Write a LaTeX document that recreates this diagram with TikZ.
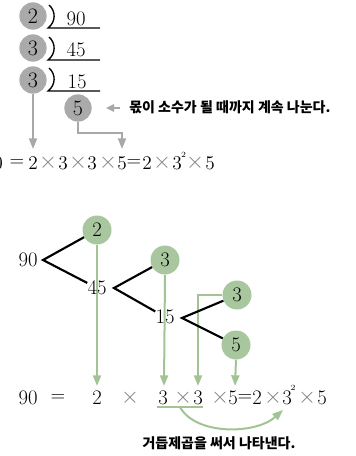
\documentclass[tikz,border=0pt]{standalone}
\usepackage{fontspec}
\newfontfamily\kr{Noto Sans CJK KR}
\usetikzlibrary{arrows.meta}
\definecolor{gcirc}{HTML}{AAAAAA}
\definecolor{garr}{HTML}{A8A8A8}
\definecolor{gfill}{HTML}{A8C79E}
\definecolor{gline}{HTML}{A2C494}
\definecolor{xgray}{HTML}{808080}
\begin{document}
\begin{tikzpicture}[x=0.75pt,y=-0.75pt,
  graycirc/.style={circle,fill=gcirc,inner sep=0pt,minimum size=20.5pt,font=\fontsize{16.5}{16.5}\selectfont},
  greencirc/.style={circle,fill=gfill,inner sep=0pt,minimum size=21.75pt,font=\fontsize{15.5}{15.5}\selectfont},
  num/.style={inner sep=0pt,font=\fontsize{15.5}{15.5}\selectfont},
  eqa/.style={inner sep=0pt,font=\fontsize{14.5}{14.5}\selectfont},
  eqb/.style={inner sep=0pt,font=\fontsize{15.5}{15.5}\selectfont},
  supa/.style={inner sep=0pt,font=\fontsize{6}{6}\selectfont},
  timesa/.style={inner sep=0pt,text=xgray,font=\fontsize{17}{17}\selectfont},
  timesb/.style={inner sep=0pt,text=xgray,font=\fontsize{18}{18}\selectfont},
  kor/.style={inner sep=0pt,font=\kr\bfseries\fontsize{10.5}{11}\selectfont},
  brk/.style={draw=black,line width=1pt},
  tree/.style={draw=black,line width=1.6pt},
  garrow/.style={draw=garr,line width=1.5pt,-{Triangle[length=8pt,width=6pt]}},
  gln/.style={draw=gline,line width=1.5pt},
  gar/.style={gln,-{Triangle[length=8pt,width=6pt]}}
]
\clip (0,0) rectangle (356,456);
\useasboundingbox (0,0) rectangle (356,456);

% ---------- top: repeated division ----------
\foreach \ul in {28,60,91}{
  \draw[brk] (49,\ul-23) .. controls (56,\ul-17) and (56,\ul-6) .. (48,\ul) -- (100,\ul);
}
\node[graycirc] (c1) at (33,16) {2};
\node[graycirc] (c2) at (33,48) {3};
\node[graycirc] (c3) at (33,80) {3};
\node[graycirc] (c4) at (78,108) {5};
\node[num] (d90) at (76,19) {90};
\node[num] (d45) at (76,50) {45};
\node[num] (d15) at (77,82) {15};

\node[kor,anchor=west] (note1) at (129,107) {몫이 소수가 될 때까지 계속 나눈다.};
\coordinate (la) at (120,108);
\coordinate (lb) at (106,108);
\draw[draw=garr,line width=1.5pt,-{Triangle[length=6pt,width=5.5pt]}] (la) -- (lb);

% top equation
\node[eqa,anchor=east] (a90) at (3,163) {90};
\node[eqa] (aeq1) at (17,163) {$=$};
\node[eqa] (a2) at (33,163) {2};
\node[timesa] (ax1) at (48,163) {$\times$};
\node[eqa] (a3) at (63,163) {3};
\node[timesa] (ax2) at (78,163) {$\times$};
\node[eqa] (a3b) at (92,163) {3};
\node[timesa] (ax3) at (108,163) {$\times$};
\node[eqa] (a5) at (122,163) {5};
\node[eqa] (aeq2) at (134,163) {$=$};
\node[eqa] (a2b) at (147,163) {2};
\node[timesa] (ax4) at (162,163) {$\times$};
\node[eqa] (a3c) at (177,163) {3};
\node[supa] (asup) at (183.5,155) {2};
\node[timesa] (ax5) at (195,163) {$\times$};
\node[eqa] (a5b) at (210,163) {5};

\coordinate (t1) at (33,149);
\coordinate (b1) at (122,133);
\coordinate (t2) at (122,149);
\draw[garrow] (c3.south) -- (t1);
\draw[garrow] (c4.south) |- (b1) -- (t2);

% ---------- bottom: factor tree ----------
\coordinate (v1) at (43,260);
\coordinate (v2) at (114,288);
\coordinate (v3) at (182,318);
\coordinate (e2) at (97,386);
\coordinate (e3) at (164,386);
\coordinate (e3b) at (198,386);
\coordinate (e5) at (235,386);

\node[greencirc] (g2) at (97,230) {2};
\node[greencirc] (g3) at (165,260) {3};
\node[greencirc] (g3b) at (237,295) {3};
\node[greencirc] (g5b) at (236,345) {5};

\draw[gar] (g2.south) -- (e2);
\draw[gar] (g3.south) -- (e3);
\draw[gar] (g3b.west) -| (e3b);
\draw[gar] (g5b.south) -- (e5);

\node[num] (t90) at (28,260) {90};
\node[num] (t45) at (97,288) {45};
\node[num] (t15) at (165,317) {15};

\draw[tree] (g2) -- (v1) -- (t45);
\draw[tree] (g3) -- (v2) -- (t15);
\draw[tree] (g3b) -- (v3) -- (g5b);

% bottom equation
\node[eqb] (b90) at (28,398) {90};
\node[eqb] (beq1) at (58,398) {$=$};
\node[eqb] (b2) at (97,398) {2};
\node[timesb] (bx1) at (130,398) {$\times$};
\node[eqb] (b3) at (163,398) {3};
\node[timesb] (bx2) at (183,398) {$\times$};
\node[eqb] (b3b) at (198,398) {3};
\node[timesb] (bx3) at (220,398) {$\times$};
\node[eqb] (b5) at (233,398) {5};
\node[eqb] (beq2) at (245,398) {$=$};
\node[eqb] (b2b) at (257,398) {2};
\node[timesb] (bx4) at (273,398) {$\times$};
\node[eqb] (b3c) at (287,398) {3};
\node[supa] (bsup) at (293,388) {2};
\node[timesb] (bx5) at (307,398) {$\times$};
\node[eqb] (b5b) at (322,398) {5};

\coordinate (u1) at (157,407);
\coordinate (u2) at (203,407);
\coordinate (um) at (180,407);
\coordinate (ct) at (283,410);
\draw[gln] (u1) -- (u2);
\draw[gar] (um) .. controls (195,435) and (255,435) .. (ct);

\node[kor] (note2) at (219,443) {거듭제곱을 써서 나타낸다.};
\end{tikzpicture}
\end{document}
